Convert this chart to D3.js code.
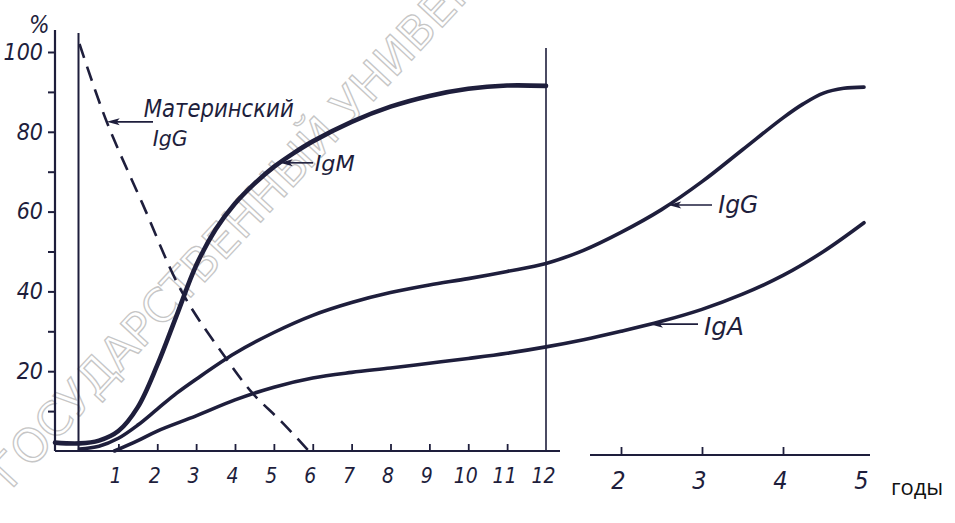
<!DOCTYPE html>
<html>
<head>
<meta charset="utf-8">
<script src="https://cdn.jsdelivr.net/npm/d3@7"></script>
<style>
  body { margin: 0; background: #fff; }
  svg text { font-family: "Liberation Sans Narrow", "DejaVu Sans Condensed", sans-serif; font-style: italic; fill: #1e1e3c; }
  svg text.plain { font-family: "Open Sans", "DejaVu Sans", sans-serif; font-style: normal; fill: #111; }
  svg text.wm { font-family: "DejaVu Sans", sans-serif; font-style: normal; fill: none; stroke: #c6c6c6; stroke-width: 1.3; }
</style>
</head>
<body>
<div id="chart"></div>
<script>
// age is in months; after the break the years are given as months (24 = 2 years)
const ageIgM = [-0.64, 0, 0.5, 1, 1.5, 2, 2.5, 3, 3.5, 4, 4.5, 5, 5.5, 6, 7, 8, 9, 10, 11, 12];
const igM    = [2.1, 1.9, 2.6, 5, 11, 21.5, 34, 46.5, 55.5, 62, 67, 71.2, 74.6, 77.6, 82.5, 86.3, 89, 90.8, 91.6, 91.5];

const ageIgG = [0, 0.5, 1, 1.5, 2, 2.5, 3, 4, 5, 6, 7, 8, 9, 10, 11, 12, 18, 24, 30, 36, 42, 48, 51, 54, 57, 60];
const igG    = [0.5, 1.2, 3.2, 6.5, 10.5, 14.5, 18, 24.5, 29.7, 34, 37.2, 39.7, 41.6, 43.2, 45, 47, 50.3, 54.8, 60.5, 67.5, 75.5, 83.5, 87, 89.7, 90.9, 91.2];

const ageIgA = [0.9, 1.5, 2, 3, 4, 5, 6, 7, 8, 9, 10, 11, 12, 18, 24, 30, 36, 42, 48, 54, 60];
const igA    = [0, 2.6, 5, 8.8, 12.8, 16, 18.3, 19.7, 20.8, 22, 23.2, 24.5, 26.1, 27.9, 30, 32.5, 35.5, 39.3, 44, 50, 57.2];

const ageMat = [0, 0.7, 1.62, 2.65, 3.8, 4.45, 5.2, 5.9];
const matIgG = [102, 82.5, 62, 39.6, 22.8, 14.5, 7.3, 0];

const yTicks = [20, 40, 60, 80, 100];
const yMinor = [10, 30, 50, 70, 90];
const monthTicks = [1, 2, 3, 4, 5, 6, 7, 8, 9, 10, 11, 12];
const yearTicks = [2, 3, 4, 5];

const width = 955;
const height = 523;
const ink = '#1e1e3c';

// months before the break, years after it
const x = d3.scaleLinear()
  .domain([-0.64, 0, 12, 24, 36, 48, 60])
  .range([55, 79.5, 546, 621, 702, 783, 864]);

const y = d3.scaleLinear()
  .domain([0, 100])
  .range([451, 52]);

const svg = d3.select('#chart')
  .append('svg')
  .attr('width', width)
  .attr('height', height);

// watermark of the scanned page
svg.append('text')
  .attr('class', 'wm')
  .attr('transform', 'translate(11,490) rotate(-47)')
  .attr('font-size', 46)
  .text('ГОСУДАРСТВЕННЫЙ УНИВЕРСИТЕТ');

// y axis
const yAxisG = svg.append('g')
  .attr('transform', `translate(${x(-0.64)},0)`)
  .call(d3.axisLeft(y).tickValues(yTicks).tickSize(7).tickPadding(5));
yAxisG.call(g => g.select('.domain').remove());
yAxisG.selectAll('line').attr('stroke', ink).attr('stroke-width', 2);
yAxisG.selectAll('text').attr('font-size', 23);

const yMinorG = svg.append('g')
  .attr('transform', `translate(${x(-0.64)},0)`)
  .call(d3.axisLeft(y).tickValues(yMinor).tickSize(7).tickFormat(''));
yMinorG.call(g => g.select('.domain').remove());
yMinorG.selectAll('line').attr('stroke', ink).attr('stroke-width', 2);

svg.append('line')
  .attr('x1', x(-0.64)).attr('x2', x(-0.64))
  .attr('y1', 30).attr('y2', y(0))
  .attr('stroke', ink).attr('stroke-width', 2.2);

svg.append('text')
  .attr('x', 29).attr('y', 33)
  .attr('font-size', 24)
  .text('%');

// x axis, months
svg.append('line')
  .attr('x1', x(-0.64)).attr('x2', x(12) + 14)
  .attr('y1', y(0)).attr('y2', y(0))
  .attr('stroke', ink).attr('stroke-width', 2.2);

const monthAxis = svg.append('g')
  .attr('transform', `translate(0,${y(0)})`)
  .call(d3.axisBottom(x).tickValues(monthTicks).tickSize(-7).tickPadding(17));
monthAxis.call(g => g.select('.domain').remove());
monthAxis.selectAll('line').attr('stroke', ink).attr('stroke-width', 1.8);
monthAxis.selectAll('.tick').filter(d => d === 12).select('line').remove();
monthAxis.selectAll('text').attr('font-size', 21).attr('dx', -3);

// x axis, years
const yearY = y(0) + 4;
svg.append('line')
  .attr('x1', x(12) + 44).attr('x2', x(60) + 6)
  .attr('y1', yearY).attr('y2', yearY)
  .attr('stroke', ink).attr('stroke-width', 2.2);

const yearAxis = svg.append('g')
  .attr('transform', `translate(0,${yearY})`)
  .call(d3.axisBottom(x).tickValues(yearTicks.map(d => d * 12)).tickFormat(d => d / 12)
    .tickSize(-8).tickPadding(16));
yearAxis.call(g => g.select('.domain').remove());
yearAxis.selectAll('line').attr('stroke', ink).attr('stroke-width', 1.8);
yearAxis.selectAll('.tick').filter(d => d === 60).select('line').remove();
yearAxis.selectAll('text').attr('font-size', 25).attr('dx', -3);

svg.append('text')
  .attr('class', 'plain')
  .attr('x', 891).attr('y', 495)
  .attr('font-size', 22)
  .text('годы');

// birth line and 12 months line
svg.append('line')
  .attr('x1', x(0) - 1).attr('x2', x(0) - 1)
  .attr('y1', 33).attr('y2', y(0))
  .attr('stroke', ink).attr('stroke-width', 2);

svg.append('line')
  .attr('x1', x(12)).attr('x2', x(12))
  .attr('y1', 48).attr('y2', y(0))
  .attr('stroke', ink).attr('stroke-width', 1.6);

// curves
const line = d3.line()
  .x(d => x(d[0]))
  .y(d => y(d[1]))
  .curve(d3.curveCatmullRom.alpha(0.5));

const series = [
  {age: ageMat, val: matIgG, w: 2.6, dash: '15 9'},
  {age: ageIgA, val: igA, w: 3.6},
  {age: ageIgG, val: igG, w: 3.6},
  {age: ageIgM, val: igM, w: 4.6}
];

series.forEach(s => {
  svg.append('path')
    .datum(d3.zip(s.age, s.val))
    .attr('d', line)
    .attr('fill', 'none')
    .attr('stroke', ink)
    .attr('stroke-width', s.w)
    .attr('stroke-dasharray', s.dash || null)
    .attr('stroke-linecap', s.dash ? 'butt' : 'round');
});

// labels with arrows pointing at the curves
function valueAt(ages, vals, a) {
  const i = d3.bisectRight(ages, a);
  const t = (a - ages[i - 1]) / (ages[i] - ages[i - 1]);
  return vals[i - 1] + t * (vals[i] - vals[i - 1]);
}

function arrow(tipX, tipY, tailX) {
  svg.append('line')
    .attr('x1', tailX).attr('x2', tipX + 6)
    .attr('y1', tipY).attr('y2', tipY)
    .attr('stroke', ink).attr('stroke-width', 1.6);
  svg.append('path')
    .attr('d', `M${tipX},${tipY}L${tipX + 13},${tipY - 3.5}L${tipX + 10},${tipY}L${tipX + 13},${tipY + 3.5}Z`)
    .attr('fill', ink);
}

const labels = [
  {age: ageMat, val: matIgG, at: 0.7, tail: 153, lines: [
    {t: 'Материнский', dx: 37, dy: -5, size: 25, len: 150},
    {t: 'IgG', dx: 46, dy: 24, size: 22, len: 35}]},
  {age: ageIgM, val: igM, at: 5.15, tail: 313, lines: [
    {t: 'IgM', dx: 35, dy: 8, size: 21, len: 40}]},
  {age: ageIgG, val: igG, at: 31, tail: 712, lines: [
    {t: 'IgG', dx: 50, dy: 8, size: 25, len: 40}]},
  {age: ageIgA, val: igA, at: 28.3, tail: 698, lines: [
    {t: 'IgA', dx: 54, dy: 11, size: 25, len: 40}]}
];

labels.forEach(l => {
  const tx = x(l.at);
  const ty = y(valueAt(l.age, l.val, l.at));
  arrow(tx, ty, l.tail);
  l.lines.forEach(s => {
    svg.append('text')
      .attr('x', tx + s.dx).attr('y', ty + s.dy)
      .attr('font-size', s.size)
      .attr('textLength', s.len)
      .attr('lengthAdjust', 'spacingAndGlyphs')
      .text(s.t);
  });
});
</script>
</body>
</html>
